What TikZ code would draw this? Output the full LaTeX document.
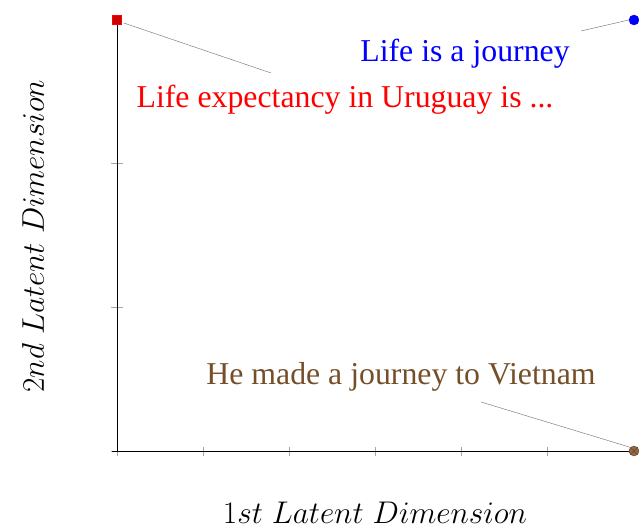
\documentclass[tikz,border=0pt]{standalone}
\usepackage{fontspec}
\newfontfamily\timesf{Liberation Serif}
\usetikzlibrary{arrows.meta}
\definecolor{brtext}{rgb}{0.46,0.31,0.16}
\definecolor{brmark}{rgb}{0.62,0.40,0.20}
\newcommand{\axtext}[1]{\scalebox{1.26}{\fontsize{24}{29}\selectfont$#1$}}
\tikzset{
  axisline/.style={line width=0.8pt, -{Stealth[length=5pt,width=4pt]}},
  tickline/.style={gray!70, line width=0.8pt},
  pinline/.style={gray, line width=0.5pt},
  lbl/.style={font=\timesf\fontsize{31.8}{38}\selectfont, inner sep=0pt},
  axlbl/.style={inner sep=0pt},
}
\begin{document}
\begin{tikzpicture}[x=1pt,y=1pt]
\useasboundingbox (0,0) rectangle (639,529);
% ticks
\foreach \i in {0,...,6} { \draw[tickline] ({117+86.17*\i},73) -- ({117+86.17*\i},82); }
\foreach \j in {0,...,2} { \draw[tickline] (111,{78+143.67*\j}) -- (123,{78+143.67*\j}); }
% axes
\coordinate (o) at (117,78);
\coordinate (xs) at (112,78);
\coordinate (xe) at (634,78);
\coordinate (ye) at (117,509);
\draw[axisline] (xs) -- (xe);
\draw[axisline] (o) -- (ye);
% markers
\node[draw=red, fill=red!80!black, minimum size=9pt, inner sep=0pt, line width=0.5pt] (mr) at (117,509) {};
\node[circle, draw=blue, fill=blue, minimum size=10pt, inner sep=0pt] (mb) at (634,509) {};
\node[circle, draw=black!70, fill=brmark, minimum size=10pt, inner sep=0pt, line width=0.4pt] (mbr) at (634,78) {};
\draw[black!70, line width=0.4pt] (mbr.north west) -- (mbr.south east) (mbr.north east) -- (mbr.south west);
% labels
\node[lbl, text=red] (tr) at (345,429) {Life expectancy in Uruguay is ...};
\node[lbl, text=blue] (tb) at (465,475) {Life is a journey};
\node[lbl, text=brtext] (tbr) at (401,152) {He made a journey to Vietnam};
% pins
\coordinate (pr) at (271,456);
\coordinate (pb) at (581,498);
\coordinate (pbr) at (481,127);
\draw[pinline] (mr.east) ++(2,-3) -- (pr);
\draw[pinline] (pb) -- (mb.west);
\draw[pinline] (pbr) -- (mbr.north west);
% axis labels
\node[axlbl] (xl) at (375,16) {\axtext{1st\ Latent\ Dimension}};
\node[axlbl, rotate=90] (yl) at (33,293) {\axtext{2nd\ Latent\ Dimension}};
\end{tikzpicture}
\end{document}
